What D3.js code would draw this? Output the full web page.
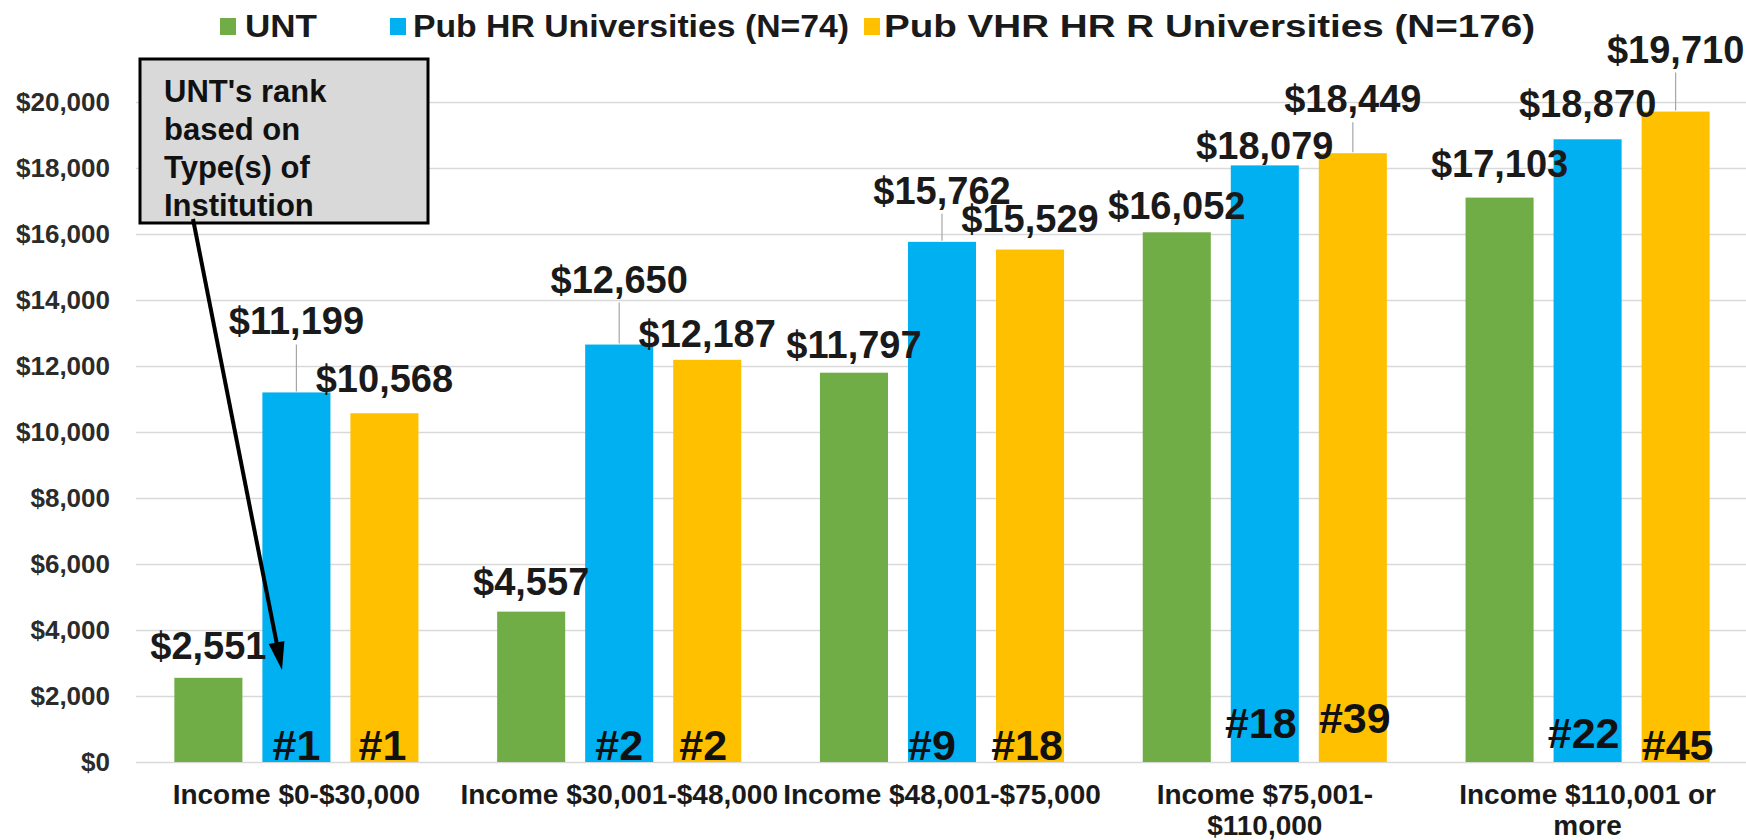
<!DOCTYPE html>
<html>
<head>
<meta charset="utf-8">
<script src="https://cdn.jsdelivr.net/npm/d3@7"></script>
<style>
  html, body { margin: 0; padding: 0; background: #ffffff; }
  svg { display: block; }
  text { font-family: "Liberation Sans", Arial, sans-serif; font-weight: bold; }
</style>
</head>
<body>
<svg id="chart" width="1746" height="840"></svg>
<script>
// ---- data ----
const categories = ["Income $0-$30,000", "Income $30,001-$48,000", "Income $48,001-$75,000", "Income $75,001-$110,000", "Income $110,001 or more"];
const categoryLines = [["Income $0-$30,000"], ["Income $30,001-$48,000"], ["Income $48,001-$75,000"], ["Income $75,001-", "$110,000"], ["Income $110,001 or", "more"]];
const seriesNames = ["UNT", "Pub HR Universities (N=74)", "Pub VHR HR R Universities (N=176)"];
const untValues = [2551, 4557, 11797, 16052, 17103];
const pubHRValues = [11199, 12650, 15762, 18079, 18870];
const pubVHRValues = [10568, 12187, 15529, 18449, 19710];
const hrRanks = ["#1", "#2", "#9", "#18", "#22"];
const vhrRanks = ["#1", "#2", "#18", "#39", "#45"];
const yTicks = [0, 2000, 4000, 6000, 8000, 10000, 12000, 14000, 16000, 18000, 20000];
const annotationLines = ["UNT's rank", "based on", "Type(s) of", "Institution"];

// ---- layout / style (not data) ----
const colors = ["#70AD47", "#00B0F0", "#FFC000"];
const labelLift = [[19, 17, 15, 13, 21], [58, 52, 38, 6, 22], [21, 13, 18, 41, 49]];
const rankLift = [[2, 2, 2, 24, 14], [2, 2, 2, 29, 2]];
const rankShift = [[0, 0, -10, -4, -4], [-2, -4, -3, 2, 2]];

const svg = d3.select("#chart");
svg.append("rect").attr("width", 1746).attr("height", 840).attr("fill", "#fff");

const x0 = d3.scaleBand().domain(categories).range([135, 1749]).padding(0);
const x1 = d3.scaleBand().domain([0, 1, 2]).range([0, x0.bandwidth()]).paddingInner(0.227).paddingOuter(0.447);
const y = d3.scaleLinear().domain([0, 20000]).range([762, 102]);

// gridlines + y axis
const yAxis = d3.axisLeft(y).tickValues(yTicks).tickFormat(d3.format("$,")).tickSize(-(1746 - 136)).tickPadding(26);
const gy = svg.append("g").attr("transform", "translate(136,0)").call(yAxis);
gy.select(".domain").remove();
gy.selectAll(".tick line").attr("stroke", "#d9d9d9").attr("stroke-width", 1.5);
gy.selectAll(".tick text").attr("fill", "#2b2b2b").style("font-size", "26px").attr("dy", "0.34em");

// bars
const seriesValues = [untValues, pubHRValues, pubVHRValues];
const barData = [];
categories.forEach((c, i) => {
  seriesValues.forEach((vals, s) => barData.push({ c, i, s, v: vals[i] }));
});

svg.append("g").selectAll("rect").data(barData).join("rect")
  .attr("x", d => x0(d.c) + x1(d.s))
  .attr("y", d => y(d.v))
  .attr("width", x1.bandwidth())
  .attr("height", d => y(0) - y(d.v))
  .attr("fill", d => colors[d.s]);

// leader lines
const fmt = d3.format("$,");
const leaders = barData.filter(d => labelLift[d.s][d.i] > 30);
svg.append("g").selectAll("line").data(leaders).join("line")
  .attr("x1", d => x0(d.c) + x1(d.s) + x1.bandwidth() / 2)
  .attr("x2", d => x0(d.c) + x1(d.s) + x1.bandwidth() / 2)
  .attr("y1", d => y(d.v) - labelLift[d.s][d.i] + 10)
  .attr("y2", d => y(d.v) - 1)
  .attr("stroke", "#a6a6a6").attr("stroke-width", 1.2);

// value labels
svg.append("g").selectAll("text").data(barData).join("text")
  .attr("x", d => x0(d.c) + x1(d.s) + x1.bandwidth() / 2)
  .attr("y", d => y(d.v) - labelLift[d.s][d.i])
  .attr("text-anchor", "middle")
  .attr("fill", "#1a1a1a")
  .style("font-size", "38px")
  .text(d => fmt(d.v));

// rank labels
const rankData = [];
categories.forEach((c, i) => {
  rankData.push({ c, i, s: 1, t: hrRanks[i] });
  rankData.push({ c, i, s: 2, t: vhrRanks[i] });
});
svg.append("g").selectAll("text").data(rankData).join("text")
  .attr("x", d => x0(d.c) + x1(d.s) + x1.bandwidth() / 2 + rankShift[d.s - 1][d.i])
  .attr("y", d => y(0) - rankLift[d.s - 1][d.i])
  .attr("text-anchor", "middle")
  .attr("fill", "#111")
  .style("font-size", "43px")
  .text(d => d.t);

// category labels
const cat = svg.append("g").selectAll("text").data(categories).join("text")
  .attr("x", d => x0(d) + x0.bandwidth() / 2)
  .attr("y", 804)
  .attr("text-anchor", "middle")
  .attr("fill", "#1a1a1a")
  .style("font-size", "28px");
cat.each(function (d, i) {
  d3.select(this).selectAll("tspan").data(categoryLines[i]).join("tspan")
    .attr("x", x0(d) + x0.bandwidth() / 2)
    .attr("dy", (t, k) => k === 0 ? 0 : 31)
    .text(t => t);
});

// legend
const legendPos = [{ sx: 220, tx: 245, w: 72 }, { sx: 390, tx: 413, w: 436 }, { sx: 864, tx: 884, w: 651 }];
const lg = svg.append("g");
seriesNames.forEach((n, s) => {
  lg.append("rect").attr("x", legendPos[s].sx).attr("y", 18).attr("width", 16).attr("height", 17).attr("fill", colors[s]);
  lg.append("text").attr("x", legendPos[s].tx).attr("y", 37)
    .attr("fill", "#1a1a1a").style("font-size", "31px")
    .attr("textLength", legendPos[s].w).attr("lengthAdjust", "spacingAndGlyphs")
    .text(n);
});

// annotation box
const ann = svg.append("g");
ann.append("rect").attr("x", 140).attr("y", 59).attr("width", 288).attr("height", 164)
  .attr("fill", "#d9d9d9").attr("stroke", "#000").attr("stroke-width", 3);
ann.selectAll("text").data(annotationLines).join("text")
  .attr("x", 164).attr("y", (d, i) => 102 + i * 38)
  .attr("fill", "#111").style("font-size", "31px")
  .text(d => d);

// arrow
const a0 = [193, 219], tip = [282, 670];
const dx = tip[0] - a0[0], dy = tip[1] - a0[1], L = Math.hypot(dx, dy);
const ux = dx / L, uy = dy / L, px = -uy, py = ux;
const hl = 28, hw = 8;
const bx = tip[0] - ux * hl, by = tip[1] - uy * hl;
ann.append("line").attr("x1", a0[0]).attr("y1", a0[1]).attr("x2", bx + ux * 4).attr("y2", by + uy * 4)
  .attr("stroke", "#000").attr("stroke-width", 4);
ann.append("path")
  .attr("d", `M${tip[0]},${tip[1]}L${bx + px * hw},${by + py * hw}L${bx - px * hw},${by - py * hw}Z`)
  .attr("fill", "#000");
</script>
</body>
</html>
